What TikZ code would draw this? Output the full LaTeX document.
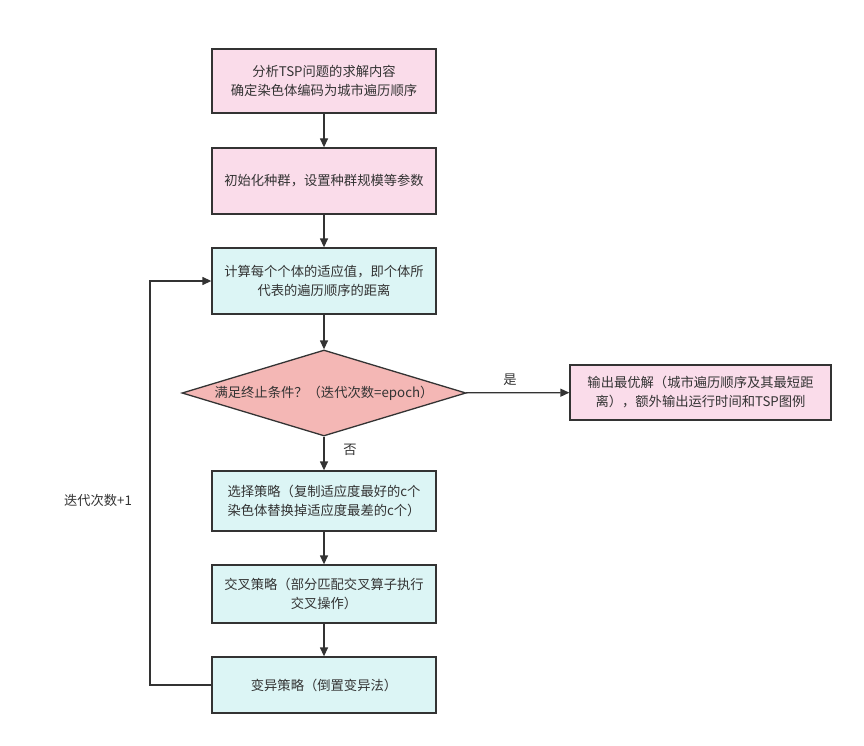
\documentclass[tikz,border=0pt]{standalone}
\usepackage{fontspec}
\setmainfont{Noto Sans CJK SC}
\usetikzlibrary{shapes.geometric,arrows.meta}
\definecolor{pinkf}{HTML}{FADCEA}
\definecolor{cyanf}{HTML}{DCF5F5}
\definecolor{diaf}{HTML}{F4B7B5}
\definecolor{edge}{HTML}{333333}
\definecolor{txt}{HTML}{333333}
\begin{document}
\begin{tikzpicture}[x=1pt,y=-1pt,
  font=\fontsize{13.3}{19}\selectfont, text=txt,
  boxbase/.style={draw=edge,line width=1.3pt,rectangle,minimum width=224pt,align=center,inner sep=2pt},
  pinkbox/.style={boxbase,fill=pinkf},
  cyanbox/.style={boxbase,fill=cyanf},
  dia/.style={draw=edge,line width=1.3pt,diamond,fill=diaf,aspect=3.3,inner sep=0pt,minimum width=284pt,minimum height=86pt},
  arr/.style={draw=edge,line width=1.3pt,-{Triangle[length=9pt,width=8pt]}},
  lab/.style={text=txt}]
\useasboundingbox (0,0) rectangle (864,746);
\node[pinkbox,minimum height=64pt] (n1) at (324,81) {分析TSP问题的求解内容\\确定染色体编码为城市遍历顺序};
\node[pinkbox,minimum height=66pt] (n2) at (324,181) {初始化种群，设置种群规模等参数};
\node[cyanbox,minimum height=66pt] (n3) at (324,281) {计算每个个体的适应值，即个体所\\代表的遍历顺序的距离};
\node[dia] (d) at (324,393) {};
\node[lab] at (324,393) {满足终止条件？（迭代次数=epoch）};
\node[pinkbox,minimum width=261pt,minimum height=55pt] (out) at (700.5,392.5) {输出最优解（城市遍历顺序及其最短距\\离），额外输出运行时间和TSP图例};
\node[cyanbox,minimum height=60pt] (n4) at (324,501) {选择策略（复制适应度最好的c个\\染色体替换掉适应度最差的c个）};
\node[cyanbox,minimum height=58pt] (n5) at (324,594) {交叉策略（部分匹配交叉算子执行\\交叉操作）};
\node[cyanbox,minimum height=56pt] (n6) at (324,685) {变异策略（倒置变异法）};
\coordinate (lb) at (150,685);
\coordinate (lt) at (150,281);
\draw[arr] (n1) -- (n2);
\draw[arr] (n2) -- (n3);
\draw[arr] (n3) -- (d);
\draw[arr] (d) -- (out);
\draw[arr] (d) -- (n4);
\draw[arr] (n4) -- (n5);
\draw[arr] (n5) -- (n6);
\draw[arr] (n6.west) -- (lb) -- (lt) -- (n3.west);
\node[lab] (yes) at (510,380) {是};
\node[lab] (no) at (350,450) {否};
\node[lab] (it) at (98,500) {迭代次数+1};
\end{tikzpicture}
\end{document}
